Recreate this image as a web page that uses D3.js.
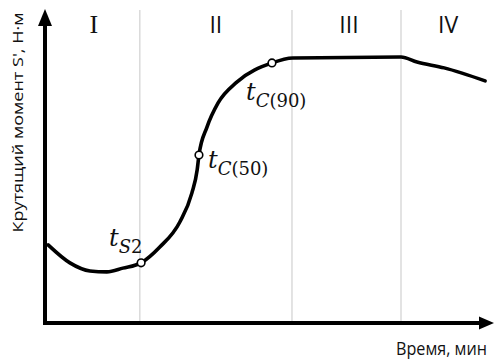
<!DOCTYPE html>
<html>
<head>
<meta charset="utf-8">
<script src="https://cdn.jsdelivr.net/npm/d3@7"></script>
<style>
  body { margin: 0; background: #fff; }
  svg { display: block; }
</style>
</head>
<body>
<div id="vis"></div>
<script>
// Кривая вулканизации (реометр)
const timeValues   = [0.07, 0.56, 1.01, 1.39, 1.75, 2.16, 2.58, 3.03, 3.30, 3.42, 3.46, 3.64, 3.89, 4.31, 5.10, 5.57, 8.00, 8.36, 8.97, 9.89];
const torqueValues = [2.52, 1.94, 1.68, 1.65, 1.77, 1.94, 2.45, 3.26, 4.19, 4.94, 5.42, 6.32, 7.10, 7.77, 8.39, 8.55, 8.58, 8.42, 8.23, 7.81];

// точки t_S2, t_C(50), t_C(90)
const markerTimes   = [2.16, 3.46, 5.10];
const markerTorques = [1.94, 5.42, 8.39];
const markerMain    = ["t", "t", "t"];
const markerSub     = ["S", "C", "C"];
const markerSubTail = ["2", "(50)", "(90)"];

// стадии
const stageBounds = [2.13, 5.55, 8.0];
const stageNames  = ["I", "II", "III", "IV"];
const stageCenters = [1.10, 3.84, 6.83, 9.06];

const yLabel = "Крутящий момент S', Н·м";
const xLabel = "Время, мин";

const WIDTH = 494;
const HEIGHT = 360;
const MARGIN = { top: 13, right: 4, bottom: 37, left: 45 };

const svg = d3.select("#vis").append("svg")
    .attr("width", WIDTH)
    .attr("height", HEIGHT);

const x = d3.scaleLinear().domain([0, 10]).range([MARGIN.left, 490]);
const y = d3.scaleLinear().domain([0, 10]).range([HEIGHT - MARGIN.bottom, MARGIN.top]);

// разделители стадий
svg.selectAll("line.stage")
    .data(stageBounds)
    .join("line")
    .attr("class", "stage")
    .attr("x1", d => x(d)).attr("x2", d => x(d))
    .attr("y1", y(0)).attr("y2", 10)
    .attr("stroke", "#dadada")
    .attr("stroke-width", 1.5);

// подписи стадий (первая с засечками, как на оригинале)
svg.selectAll("text.stage")
    .data(stageNames)
    .join("text")
    .attr("class", "stage")
    .attr("x", (d, i) => x(stageCenters[i]))
    .attr("y", 33)
    .attr("text-anchor", "middle")
    .attr("font-family", (d, i) => i == 0 ? "'Liberation Serif', serif" : "'Open Sans', sans-serif")
    .attr("font-size", (d, i) => i == 0 ? 26 : 23)
    .attr("fill", "#111")
    .text(d => d);

// оси без делений
const axisX = svg.append("g")
    .attr("transform", `translate(0,${y(0)})`)
    .call(d3.axisBottom(x).tickValues([]).tickSizeOuter(0));
axisX.select(".domain").attr("stroke", "#000").attr("stroke-width", 4)
    .attr("d", `M${MARGIN.left - 2},0H${WIDTH - 12}`);

const axisY = svg.append("g")
    .attr("transform", `translate(${MARGIN.left},0)`)
    .call(d3.axisLeft(y).tickValues([]).tickSizeOuter(0));
axisY.select(".domain").attr("stroke", "#000").attr("stroke-width", 4)
    .attr("d", `M0,${y(0) + 2}V22`);

// стрелки
svg.append("path")
    .attr("d", `M${MARGIN.left},9 L${MARGIN.left - 7},26 L${MARGIN.left + 7},26 Z`)
    .attr("fill", "#000");
svg.append("path")
    .attr("d", `M${WIDTH},${y(0)} L${WIDTH - 15},${y(0) - 6.5} L${WIDTH - 15},${y(0) + 6.5} Z`)
    .attr("fill", "#000");

// кривая
const curveData = timeValues.map((t, i) => ({ t: t, s: torqueValues[i] }));
const line = d3.line()
    .x(d => x(d.t))
    .y(d => y(d.s))
    .curve(d3.curveMonotoneX);

svg.append("path")
    .datum(curveData)
    .attr("d", line)
    .attr("fill", "none")
    .attr("stroke", "#000")
    .attr("stroke-width", 3.6)
    .attr("stroke-linecap", "round");

// маркеры
svg.selectAll("circle.mark")
    .data(markerTimes)
    .join("circle")
    .attr("class", "mark")
    .attr("cx", d => x(d))
    .attr("cy", (d, i) => y(markerTorques[i]))
    .attr("r", 3.8)
    .attr("fill", "#fff")
    .attr("stroke", "#000")
    .attr("stroke-width", 1.6);

// подписи маркеров
const labelPos = [[109, 246], [208, 168], [246, 100]];
const labels = svg.selectAll("text.mark")
    .data(markerMain)
    .join("text")
    .attr("class", "mark")
    .attr("x", (d, i) => labelPos[i][0])
    .attr("y", (d, i) => labelPos[i][1])
    .attr("font-family", "'DejaVu Serif', serif")
    .attr("font-size", 24)
    .attr("fill", "#111");
labels.append("tspan").attr("font-style", "italic").text(d => d);
labels.append("tspan").attr("font-style", "italic").attr("font-size", 18).attr("dy", 7)
    .text((d, i) => markerSub[i]);
labels.append("tspan").attr("font-size", 18)
    .text((d, i) => markerSubTail[i]);

// подписи осей
svg.append("text")
    .attr("transform", `translate(23,${(12 + 233) / 2}) rotate(-90)`)
    .attr("text-anchor", "middle")
    .attr("font-family", "'Open Sans', sans-serif")
    .attr("font-size", 14.5)
    .attr("textLength", 220)
    .attr("lengthAdjust", "spacingAndGlyphs")
    .attr("fill", "#111")
    .text(yLabel);

svg.append("text")
    .attr("x", 396)
    .attr("y", 355)
    .attr("font-family", "'Open Sans', sans-serif")
    .attr("font-size", 17.5)
    .attr("textLength", 91)
    .attr("lengthAdjust", "spacingAndGlyphs")
    .attr("fill", "#111")
    .text(xLabel);
</script>
</body>
</html>
